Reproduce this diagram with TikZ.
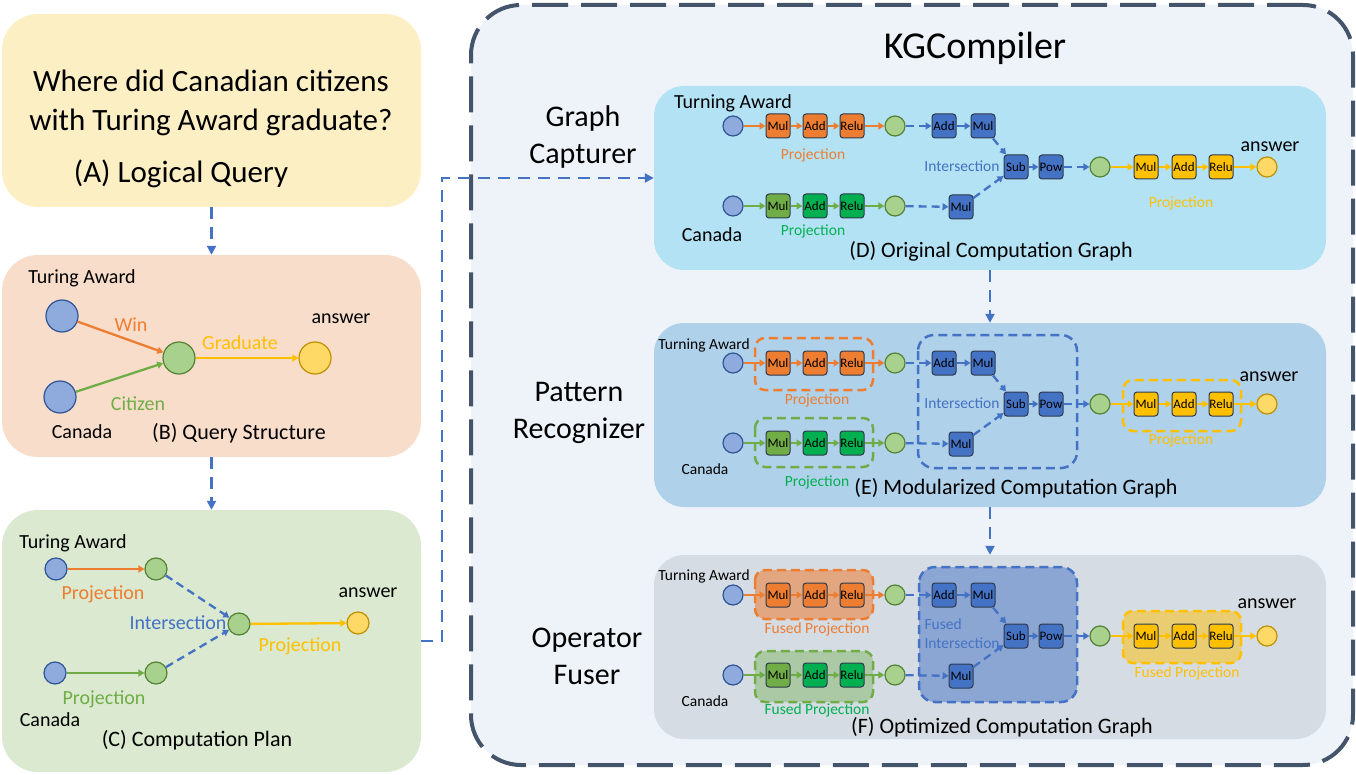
\documentclass[tikz,border=0pt]{standalone}
\usepackage{fontspec}
\setmainfont{Carlito}
\usetikzlibrary{arrows.meta}

\definecolor{ofOrange}{HTML}{ED7D31}
\definecolor{ofGreen}{HTML}{70AD47}
\definecolor{ofLime}{HTML}{00B050}
\definecolor{ofYellow}{HTML}{FFC000}
\definecolor{ofBlue}{HTML}{4472C4}
\definecolor{ofSlate}{HTML}{44546A}
\definecolor{entFill}{HTML}{8FAADC}
\definecolor{entLine}{HTML}{2F5597}
\definecolor{varFill}{HTML}{A9D18E}
\definecolor{varLine}{HTML}{548235}
\definecolor{ansFill}{HTML}{FFD966}
\definecolor{ansLine}{HTML}{BF9000}
\definecolor{opLine}{HTML}{2E3A4C}
\definecolor{qFill}{HTML}{FDEFC4}
\definecolor{sFill}{HTML}{F9DDCB}
\definecolor{cFill}{HTML}{DAE9CF}
\definecolor{kgFill}{HTML}{EEF3FA}
\definecolor{dFill}{HTML}{B4E2F5}
\definecolor{eFill}{HTML}{B0D1EA}
\definecolor{fFill}{HTML}{D5DCE4}

\begin{document}
\begin{tikzpicture}[x=1pt, y=-1pt,
	panel/.style={rounded corners=36pt, inner sep=0pt},
	ent/.style={circle, draw=entLine, fill=entFill, line width=1.2pt, minimum size=20pt, inner sep=0pt},
	var/.style={ent, draw=varLine, fill=varFill},
	ans/.style={ent, draw=ansLine, fill=ansFill},
	op/.style={draw=opLine, line width=1pt, rounded corners=3pt, minimum size=24pt, inner sep=0pt, font=\fontsize{13}{13}\selectfont},
	link/.style={-{Triangle[length=6pt,width=7pt]}, line width=2.3pt},
	dlink/.style={link, ofBlue, dash pattern=on 8pt off 5pt},
	flow/.style={-{Triangle[length=9pt,width=9pt]}, ofBlue, line width=2.5pt, dash pattern=on 12pt off 8pt},
	grp/.style={rounded corners=10pt, line width=2.5pt, dash pattern=on 9pt off 5pt},
	tA/.style={font=\fontsize{31}{39}\selectfont, align=center},
	tH/.style={font=\fontsize{30}{37}\selectfont, align=center},
	tT/.style={font=\fontsize{22}{26}\selectfont},
	tL/.style={font=\fontsize{20}{24}\selectfont},
	tS/.style={font=\fontsize{15.5}{19}\selectfont}]
	\useasboundingbox (0,0) rectangle (1356,775);

	% left column
	\node[panel, fill=qFill, minimum width=419pt, minimum height=193pt] (pA) at (211.5,110.5) {};
	\node[panel, fill=sFill, minimum width=419pt, minimum height=202pt] (pB) at (211.5,356) {};
	\node[panel, fill=cFill, minimum width=419pt, minimum height=262pt] (pC) at (211.5,641) {};

	\node[tA] (qtext) at (211,103) {Where did Canadian citizens\\with Turing Award graduate?};
	\node[tA] (qtitle) at (181,174) {(A) Logical Query};

	% query structure
	\node[ent, minimum size=32pt] (bTA) at (62,316) {};
	\node[ent, minimum size=32pt] (bCA) at (60,397) {};
	\node[var, minimum size=32pt] (bV) at (179,358) {};
	\node[ans, minimum size=32pt] (bAns) at (315,358) {};
	\node[tL] at (82,278) {Turing Award};
	\node[tL] at (82,432) {Canada};
	\node[tL] at (341,319) {answer};
	\node[tL, ofOrange] at (131,325) {Win};
	\node[tL, ofYellow] at (240,343) {Graduate};
	\node[tL, ofGreen] at (138,404) {Citizen};
	\node[tT] at (239,433) {(B) Query Structure};
	\draw[link, ofOrange] (bTA) -- (bV);
	\draw[link, ofGreen] (bCA) -- (bV);
	\draw[link, ofYellow] (bV) -- (bAns);

	% computation plan
	\node[ent, minimum size=22pt] (cTA) at (56,569) {};
	\node[var, minimum size=22pt] (cV1) at (156,569) {};
	\node[ent, minimum size=22pt] (cCA) at (55,673) {};
	\node[var, minimum size=22pt] (cV2) at (156,673) {};
	\node[var, minimum size=22pt] (cV) at (239,624) {};
	\node[ans, minimum size=22pt] (cAns) at (358,623) {};
	\node[tL] at (73,543) {Turing Award};
	\node[tL] at (50,720) {Canada};
	\node[tL] at (368,593) {answer};
	\node[tL, ofOrange] at (103,594) {Projection};
	\node[tL, ofGreen] at (104,699) {Projection};
	\node[tL, ofBlue] at (178,623) {Intersection};
	\node[tL, ofYellow] at (300,646) {Projection};
	\node[tT] at (197,740) {(C) Computation Plan};
	\draw[link, ofOrange] (cTA) -- (cV1);
	\draw[link, ofGreen] (cCA) -- (cV2);
	\draw[dlink] (cV1) -- (cV);
	\draw[dlink] (cV2) -- (cV);
	\draw[link, ofYellow] (cV) -- (cAns);

	% KGCompiler
	\node[panel, draw=ofSlate, fill=kgFill, line width=4pt, dash pattern=on 36pt off 13pt,
		rounded corners=50pt, minimum width=882pt, minimum height=760pt] (kg) at (912,385) {};
	\node[font=\fontsize{38}{44}\selectfont] (kgname) at (975,48) {KGCompiler};
	\node[tH] (capt) at (583,137) {Graph\\Capturer};
	\node[tH] (recog) at (579,413) {Pattern\\Recognizer};
	\node[tH] (fuser) at (587,656) {Operator\\Fuser};

	\node[panel, fill=dFill, rounded corners=30pt, minimum width=672pt, minimum height=184pt] (pD) at (990,178) {};
	\node[panel, fill=eFill, rounded corners=30pt, minimum width=672pt, minimum height=184pt] (pE) at (990,415) {};
	\node[panel, fill=fFill, rounded corners=30pt, minimum width=672pt, minimum height=184pt] (pF) at (990,647) {};

	\draw[flow] (pA.south) -- (pB.north);
	\draw[flow] (pB.south) -- (pC.north);
	\draw[flow] (pC.east) -- ++(21,0) |- (pD.west);
	\draw[flow] (pD.south) -- (pE.north);
	\draw[flow] (pE.south) -- (pF.north);

	% pattern groups
	\draw[grp, ofOrange] (755,338) rectangle (873,390);
	\draw[grp, ofGreen] (755,418) rectangle (873,467);
	\draw[grp, ofBlue, rounded corners=16pt] (918,335) rectangle (1077,468);
	\draw[grp, ofYellow] (1123,380) rectangle (1241,431);
	% fused groups
	\draw[grp, ofOrange, fill=ofOrange, fill opacity=0.55] (755,570) rectangle (873,619);
	\draw[grp, ofGreen, fill=ofGreen, fill opacity=0.4] (755,651) rectangle (873,702);
	\draw[grp, ofBlue, fill=ofBlue, fill opacity=0.5, rounded corners=16pt] (919,567) rectangle (1077,702);
	\draw[grp, ofYellow, fill=ofYellow, fill opacity=0.5] (1123,611) rectangle (1241,663);

	% computation graphs
	\foreach \p/\m in {D/167,E/404,F/636}{
		\node[ent] (\p e1) at (733,\m-41) {};
		\node[op, fill=ofOrange] (\p m1) at (778,\m-41) {Mul};
		\node[op, fill=ofOrange] (\p a1) at (815,\m-41) {Add};
		\node[op, fill=ofOrange] (\p r1) at (852,\m-41) {Relu};
		\node[var] (\p v1) at (895,\m-41) {};
		\node[op, fill=ofBlue] (\p ia) at (944,\m-41) {Add};
		\node[op, fill=ofBlue] (\p im) at (983,\m-41) {Mul};
		\node[ent] (\p e2) at (733,\m+39) {};
		\node[op, fill=ofGreen] (\p m2) at (778,\m+39) {Mul};
		\node[op, fill=ofLime] (\p a2) at (815,\m+39) {Add};
		\node[op, fill=ofLime] (\p r2) at (852,\m+39) {Relu};
		\node[var] (\p v2) at (895,\m+39) {};
		\node[op, fill=ofBlue] (\p ib) at (961,\m+40) {Mul};
		\node[op, fill=ofBlue] (\p sub) at (1016,\m) {Sub};
		\node[op, fill=ofBlue] (\p pow) at (1051,\m) {Pow};
		\node[var] (\p v3) at (1100,\m) {};
		\node[op, fill=ofYellow] (\p m3) at (1146,\m) {Mul};
		\node[op, fill=ofYellow] (\p a3) at (1184,\m) {Add};
		\node[op, fill=ofYellow] (\p r3) at (1221,\m) {Relu};
		\node[ans] (\p ans) at (1267,\m) {};
		\draw[link, ofOrange] (\p e1) -- (\p m1);
		\draw[link, ofOrange] (\p m1) -- (\p a1);
		\draw[link, ofOrange] (\p a1) -- (\p r1);
		\draw[link, ofOrange] (\p r1) -- (\p v1);
		\draw[link, ofGreen] (\p e2) -- (\p m2);
		\draw[link, ofGreen] (\p m2) -- (\p a2);
		\draw[link, ofGreen] (\p a2) -- (\p r2);
		\draw[link, ofGreen] (\p r2) -- (\p v2);
		\draw[dlink] (\p v1) -- (\p ia);
		\draw[link, ofBlue] (\p ia) -- (\p im);
		\draw[dlink] (\p v2) -- (\p ib);
		\draw[dlink] (\p im) -- (\p sub);
		\draw[dlink] (\p ib) -- (\p sub);
		\draw[link, ofBlue] (\p sub) -- (\p pow);
		\draw[dlink] (\p pow) -- (\p v3);
		\draw[link, ofYellow] (\p v3) -- (\p m3);
		\draw[link, ofYellow] (\p m3) -- (\p a3);
		\draw[link, ofYellow] (\p a3) -- (\p r3);
		\draw[link, ofYellow] (\p r3) -- (\p ans);
	}

	% labels, original graph
	\node[tL] at (733,103) {Turning Award};
	\node[tL] at (712,235) {Canada};
	\node[tL] at (1270,147) {answer};
	\node[tS, ofOrange] at (813,155) {Projection};
	\node[tS, ofLime] at (813,231) {Projection};
	\node[tS, ofBlue] at (962,166) {Intersection};
	\node[tS, ofYellow] at (1181,203) {Projection};
	\node[tT] at (991,251) {(D) Original Computation Graph};

	% labels, modularized graph
	\node[tS] at (704,345) {Turning Award};
	\node[tS] at (705,469) {Canada};
	\node[tL] at (1269,377) {answer};
	\node[tS, ofOrange] at (817,400) {Projection};
	\node[tS, ofLime] at (817,482) {Projection};
	\node[tS, ofBlue] at (962,403) {Intersection};
	\node[tS, ofYellow] at (1181,440) {Projection};
	\node[tT] at (1016,488) {(E) Modularized Computation Graph};

	% labels, optimized graph
	\node[tS] at (704,576) {Turning Award};
	\node[tS] at (705,701) {Canada};
	\node[tL] at (1267,604) {answer};
	\node[tS, ofOrange] at (817,629) {Fused Projection};
	\node[tS, ofLime] at (817,710) {Fused Projection};
	\node[tS, ofBlue, align=left, anchor=west] at (921,634) {Fused\\Intersection};
	\node[tS, ofYellow] at (1187,673) {Fused Projection};
	\node[tT] at (1002,727) {(F) Optimized Computation Graph};
\end{tikzpicture}
\end{document}
